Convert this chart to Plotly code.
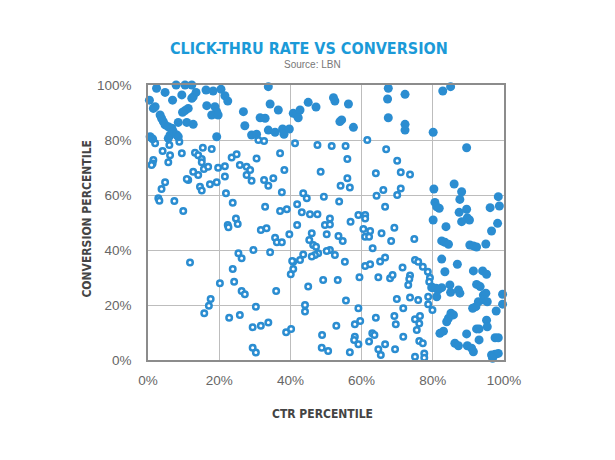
import plotly.graph_objects as go

# ---- data (percentiles) ----
x_tick_vals = [0, 20, 40, 60, 80, 100]
y_tick_vals = [0, 20, 40, 60, 80, 100]
x_tick_text = ["0%", "20%", "40%", "60%", "80%", "100%"]
y_tick_text = ["0%", "20%", "40%", "60%", "80%", "100%"]

# filled markers: high conversion / low CTR
filled_top_left = [
    (7.9, 100), (10.4, 100), (12.3, 100), (2.4, 98.8), (4.8, 97.3), (0.4, 94.5), (6.9, 94.5),
    (9.5, 96.4), (12.7, 95.7), (13.5, 97.3), (12.3, 95.2), (16.3, 98.2), (18.3, 97.8),
    (20.5, 98.5), (21.6, 96.1), (22.4, 94.2), (2.0, 92.1), (1.5, 91.5), (11.3, 91.5),
    (10.4, 90.7), (9.7, 90.1), (16.5, 92.5), (18.8, 92.1), (19.3, 90.3), (17.9, 89.1),
    (19.7, 89.1), (3.4, 89.1), (3.8, 87.9), (4.3, 86.7), (4.8, 85.5), (5.7, 84.8), (6.7, 84.3),
    (8.5, 86.4), (10.9, 86.4), (12.7, 85.7), (7.1, 83.0), (6.2, 81.8), (5.7, 80.6), (8.1, 81.8),
    (8.5, 81.2), (0.6, 81.2), (1.3, 80.4), (19.3, 81.2), (26.8, 90.3), (27.2, 85.2),
    (31.5, 88.1), (32.9, 87.9), (29.1, 81.8), (30.5, 82.1), (33.8, 99.4), (33.8, 83.6),
    (34.3, 93.1), (36.6, 90.9), (35.7, 82.8), (37.8, 84.0), (38.2, 82.1), (39.7, 84.0),
    (40.8, 89.7), (41.8, 89.1), (42.7, 90.9), (42.2, 88.1), (45.0, 93.7), (47.2, 92.0),
    (52.1, 95.4), (52.5, 94.2), (56.3, 93.1), (54.4, 87.3), (53.9, 86.7), (57.7, 84.6),
    (67.5, 98.8), (67.3, 94.9), (67.5, 88.1), (72.2, 96.6), (72.2, 85.7), (72.2, 83.6),
    (82.8, 97.8), (85.0, 99.4), (80.1, 82.8), (89.5, 77.2),
]

# filled markers: high CTR / low conversion
filled_bottom_right = [
    (80.3, 62.2), (86.0, 64.0), (88.1, 61.2), (87.6, 58.4), (80.6, 57.3), (81.1, 55.7),
    (81.8, 55.2), (98.4, 59.4), (98.7, 56.0), (96.1, 55.4), (89.5, 54.8), (87.4, 53.7),
    (89.7, 51.7), (88.1, 50.3), (90.3, 50.9), (80.1, 50.9), (83.7, 48.5), (98.2, 49.7),
    (96.5, 46.9), (82.5, 43.3), (83.4, 42.8), (84.4, 42.1), (90.4, 41.8), (91.4, 41.5),
    (92.3, 41.1), (94.9, 42.2), (82.5, 36.7), (86.9, 34.8), (83.4, 32.1), (91.4, 32.4),
    (94.0, 32.4), (95.1, 31.2), (79.7, 26.3), (80.9, 26.1), (82.5, 26.3), (81.5, 25.5),
    (84.8, 27.3), (85.0, 24.6), (87.2, 25.5), (87.6, 24.3), (81.1, 23.0), (92.3, 27.5),
    (93.3, 26.7), (94.2, 23.6), (94.9, 24.3), (94.4, 21.8), (95.3, 21.2), (99.6, 23.9),
    (99.6, 20.3), (92.8, 21.2), (92.1, 19.4), (91.2, 18.8), (97.8, 17.8), (85.1, 17.0),
    (85.8, 16.4), (84.4, 15.2), (83.9, 13.9), (95.1, 14.5), (95.3, 12.1), (92.3, 11.3),
    (93.0, 11.3), (83.0, 10.5), (82.0, 9.7), (89.5, 9.5), (93.0, 7.3), (97.5, 8.1),
    (98.4, 8.1), (86.2, 6.1), (87.2, 5.2), (89.7, 5.2), (90.9, 4.3), (91.4, 3.0),
    (96.5, 1.8), (97.5, 2.1), (98.4, 2.4), (96.8, 0.6),
]

# hollow markers
hollow_upper = [
    (2.0, 78.8), (6.0, 78.2), (8.8, 79.4), (4.1, 76.0), (6.2, 74.5), (1.5, 72.7), (1.3, 71.5),
    (5.7, 71.9), (9.5, 75.2), (13.2, 75.4), (14.1, 74.5), (15.4, 77.2), (15.1, 73.1),
    (15.1, 71.9), (17.9, 76.7), (23.5, 73.6), (24.9, 74.8), (30.5, 73.3), (31.0, 80.0),
    (32.6, 79.6), (37.1, 75.2), (41.3, 78.8), (47.6, 78.2), (51.6, 77.8), (55.5, 77.8),
    (56.0, 73.1), (61.6, 80.0), (66.9, 76.6), (70.0, 72.5), (71.0, 68.3), (73.6, 67.5),
    (1.0, 70.9), (12.7, 68.5), (11.3, 65.5), (10.9, 65.8), (14.1, 67.3), (15.7, 69.5),
    (16.9, 70.3), (4.8, 64.6), (3.8, 62.2), (14.6, 63.0), (15.1, 61.6), (17.4, 63.9),
    (19.3, 64.6), (21.6, 66.7), (19.7, 69.9), (21.6, 70.5), (25.8, 70.9), (27.7, 70.3),
    (28.7, 69.1), (27.7, 67.3), (29.1, 65.2), (32.6, 65.5), (33.8, 63.4), (2.9, 58.8),
    (3.2, 57.9), (7.4, 57.8), (9.9, 54.2), (21.9, 60.6), (23.8, 57.2), (32.9, 55.7),
]

hollow_middle = [
    (24.7, 51.5), (25.2, 49.5), (22.4, 49.1), (22.6, 48.3), (31.7, 47.3), (33.3, 47.9),
    (25.4, 38.8), (26.3, 37.0), (29.6, 40.0), (34.3, 39.2), (11.8, 35.5), (38.3, 69.1),
    (35.2, 66.1), (37.6, 61.0), (48.5, 68.5), (56.0, 66.1), (54.1, 63.4), (56.7, 62.7),
    (64.0, 67.9), (43.6, 60.6), (44.6, 58.8), (49.4, 59.4), (53.7, 57.6), (64.2, 59.7),
    (41.9, 56.6), (43.2, 53.7), (45.5, 53.0), (47.6, 53.0), (39.0, 54.8), (37.1, 54.2),
    (51.1, 51.5), (49.7, 49.1), (51.1, 49.3), (50.2, 45.7), (56.9, 50.3), (59.1, 52.7),
    (61.0, 52.7), (61.0, 51.5), (41.9, 49.1), (39.7, 45.7), (35.7, 44.5), (36.2, 42.8),
    (37.6, 42.8), (46.0, 46.1), (45.3, 43.6), (46.4, 41.8), (47.2, 41.2), (47.8, 38.8),
    (46.9, 38.2), (46.0, 37.6), (53.5, 45.1), (54.7, 43.3), (52.5, 38.2), (51.1, 40.0),
    (50.2, 39.6), (60.5, 47.6), (62.4, 46.9), (61.0, 44.8), (62.1, 44.8), (63.1, 40.6),
    (43.6, 38.4), (42.7, 36.4), (40.8, 35.7), (55.3, 35.7), (66.1, 61.8), (71.0, 62.4),
    (70.0, 60.0), (66.6, 55.7), (69.2, 48.1), (65.6, 46.1), (68.3, 43.3), (74.8, 44.0),
    (65.2, 35.8), (66.6, 37.3), (75.0, 36.4), (75.9, 35.7),
]

hollow_lower = [
    (23.8, 33.1), (20.2, 27.9), (24.2, 28.5), (26.3, 25.1), (27.2, 23.9), (17.6, 22.2),
    (17.1, 19.7), (15.8, 17.0), (22.8, 15.4), (25.8, 16.4), (30.3, 19.4), (29.4, 11.9),
    (31.7, 12.5), (33.8, 13.6), (29.4, 4.5), (30.3, 2.7), (40.5, 36.0), (40.8, 33.1),
    (40.1, 31.2), (36.0, 25.1), (45.0, 26.7), (49.2, 29.1), (53.3, 29.1), (59.4, 30.1),
    (61.0, 34.2), (62.4, 34.8), (64.7, 30.1), (55.6, 21.6), (44.1, 20.0), (44.1, 17.6),
    (59.1, 18.8), (38.8, 10.1), (40.2, 11.3), (52.9, 12.5), (58.1, 13.0), (59.6, 14.2),
    (64.0, 15.4), (48.9, 9.1), (48.8, 4.5), (50.6, 3.3), (58.1, 8.5), (57.9, 7.3),
    (59.1, 5.7), (63.0, 9.7), (63.6, 9.1), (62.1, 6.7), (56.7, 2.8), (64.7, 3.9),
    (66.6, 5.7), (65.4, 1.8), (77.2, 33.9), (78.6, 32.1), (79.2, 29.9), (79.0, 28.5),
    (79.7, 26.7), (71.5, 33.6), (68.0, 29.7), (68.7, 30.9), (73.6, 30.7), (73.4, 29.5),
    (73.1, 27.3), (69.9, 22.2), (73.6, 22.7), (75.9, 21.8), (78.7, 23.0), (78.7, 20.3),
    (79.9, 18.2), (71.7, 18.8), (69.2, 16.0), (69.6, 13.0), (75.0, 14.8), (76.4, 16.0),
    (76.2, 13.3), (75.5, 10.9), (71.7, 8.5), (76.2, 6.9), (77.2, 6.1), (69.4, 3.9),
    (75.0, 1.2), (77.6, 2.4), (77.6, 0.8),
]

BLUE = "#2b8dd1"
TITLE_BLUE = "#1b9ad8"
COND = "DejaVu Sans Condensed, Roboto, sans-serif"

hollow = hollow_upper + hollow_middle + hollow_lower
filled = filled_top_left + filled_bottom_right

fig = go.Figure()
fig.add_trace(go.Scatter(
    x=[p[0] for p in hollow], y=[p[1] for p in hollow], mode="markers",
    marker=dict(symbol="circle", size=5.5, color="white", line=dict(color=BLUE, width=2.5)),
    cliponaxis=False, hoverinfo="skip"))
fig.add_trace(go.Scatter(
    x=[p[0] for p in filled], y=[p[1] for p in filled], mode="markers",
    marker=dict(symbol="circle", size=9, color=BLUE, line=dict(width=0)),
    cliponaxis=False, hoverinfo="skip"))

axis_common = dict(
    range=[0, 100], showgrid=True, gridcolor="#bdbdbd", gridwidth=1, zeroline=False,
    showline=True, linecolor="#8c8c8c", linewidth=1.5, mirror=True,
    ticks="", tickfont=dict(family="Liberation Sans", size=13.5, color="#666666"),
    fixedrange=True,
)
fig.update_xaxes(tickvals=x_tick_vals, ticktext=x_tick_text, ticklabelstandoff=7, **axis_common)
fig.update_yaxes(tickvals=y_tick_vals, ticktext=y_tick_text, ticklabelstandoff=12, **axis_common)

fig.update_layout(
    width=615, height=460,
    margin=dict(l=148, r=111, t=85, b=100),
    plot_bgcolor="white", paper_bgcolor="white", showlegend=False,
    annotations=[
        dict(text="<b>CLICK-THRU RATE VS CONVERSION</b>", xref="paper", yref="paper",
             x=0.452, y=1.1345, xanchor="center", yanchor="middle", showarrow=False,
             font=dict(family=COND, size=16, color=TITLE_BLUE)),
        dict(text="Source: LBN", xref="paper", yref="paper",
             x=0.4607, y=1.075, xanchor="center", yanchor="middle", showarrow=False,
             font=dict(family="Liberation Sans", size=10, color="#777777")),
        dict(text="<b>CTR PERCENTILE</b>", xref="paper", yref="paper",
             x=0.49, y=-0.196, xanchor="center", yanchor="middle", showarrow=False,
             font=dict(family=COND, size=12, color="#444444")),
        dict(text="<b>CONVERSION PERCENTILE</b>", xref="paper", yref="paper",
             x=-0.170, y=0.516, xanchor="center", yanchor="middle", showarrow=False,
             textangle=-90,
             font=dict(family=COND, size=12, color="#444444")),
    ],
)

fig.write_html("out.html")
